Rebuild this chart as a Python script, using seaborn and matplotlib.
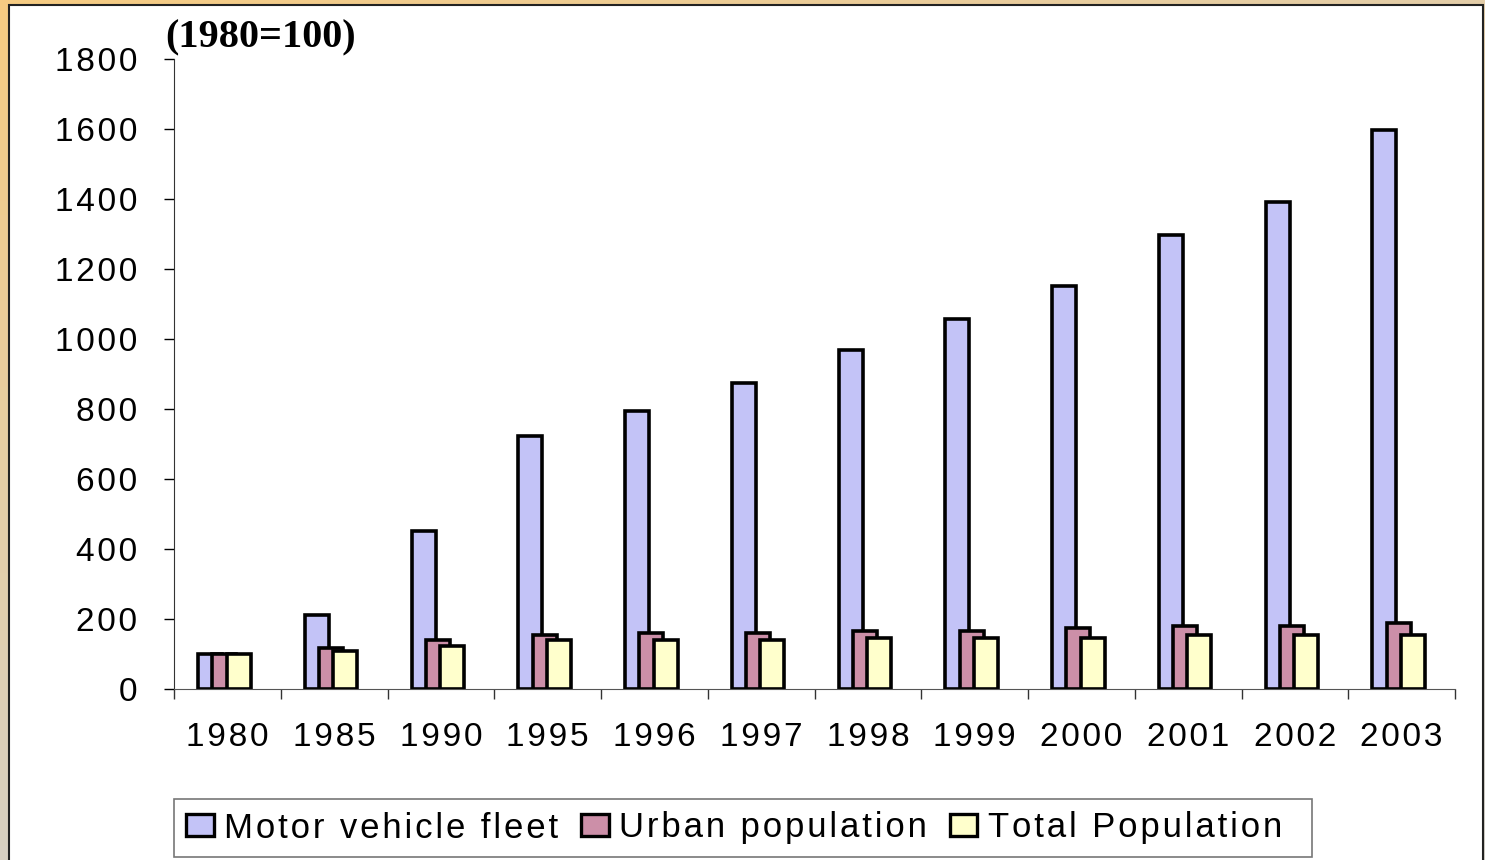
import numpy as np
import pandas as pd
import matplotlib
matplotlib.use("Agg")
import matplotlib.pyplot as plt
from matplotlib.patches import Rectangle
import seaborn as sns

# data (index, 1980 = 100)
years = ["1980", "1985", "1990", "1995", "1996", "1997",
         "1998", "1999", "2000", "2001", "2002", "2003"]
motor_fleet = [100, 211, 451, 723, 794, 874, 969, 1057, 1151, 1297, 1391, 1597]
urban_pop = [100, 117, 140, 154, 160, 160, 166, 166, 174, 180, 180, 189]
total_pop = [100, 109, 123, 140, 140, 140, 146, 146, 146, 154, 154, 154]
series_names = ["Motor vehicle fleet", "Urban population", "Total Population"]
colors = ["#c3c3f7", "#cc8fa8", "#ffffcc"]

df = pd.DataFrame({
    "year": years * 3,
    "value": motor_fleet + urban_pop + total_pop,
    "series": np.repeat(series_names, len(years)),
})

def spaced(s, sp="\u200a"):
    # fake the wide letter spacing of the original
    return sp.join(list(s))

W, H = 1485, 860
fig = plt.figure(figsize=(W / 100, H / 100), dpi=100)
sans = ["Liberation Sans", "DejaVu Sans"]

# outer frame gradient (orange top-left -> grey)
bg = fig.add_axes([0, 0, 1, 1], zorder=-10)
yy, xx = np.mgrid[0:1:60j, 0:1:100j]
t = np.clip(0.55 * xx + 0.9 * yy, 0, 1)[..., None]
c0 = np.array([246, 203, 130]) / 255
c1 = np.array([212, 208, 200]) / 255
bg.imshow(c0 * (1 - t) + c1 * t, aspect="auto", extent=[0, 1, 0, 1], origin="upper")
bg.set_axis_off()
bg.add_patch(Rectangle((9 / W, -0.01), (1483 - 9) / W, 1.01 - 5 / H,
                       transform=fig.transFigure, facecolor="white",
                       edgecolor="#222222", linewidth=1.5))

ax_w = 1455 - 174
ax = fig.add_axes([174 / W, (H - 689) / H, ax_w / W, (689 - 59) / H])
ax.patch.set_alpha(0)
sns.barplot(data=df, x="year", y="value", hue="series", palette=colors,
            width=0.40, edgecolor="black", linewidth=2.6, saturation=1,
            legend=False, ax=ax)

# overlapping bars like the original
px = 12 / ax_w  # one pixel in data units
for cont in ax.containers:
    for p in cont:
        mid = p.get_x() + p.get_width() / 2
        p.set_x(mid - 15 * px)
        p.set_width(24 * px)

ax.set_ylim(0, 1800)
ax.set_xlim(-0.5, 11.5)
ax.set_yticks(range(0, 1801, 200))
ax.set_yticklabels([spaced(str(v)) for v in range(0, 1801, 200)],
                   fontsize=24, family=sans)
ax.set_xticks(range(len(years)))
ax.set_xticklabels([spaced(y) for y in years], fontsize=24, family=sans)
ax.set_xticks(np.arange(-0.5, 12, 1), minor=True)
ax.tick_params(axis="x", which="major", length=0, pad=24)
ax.tick_params(axis="x", which="minor", length=7, width=1, color="#333333")
ax.tick_params(axis="y", length=7, width=1, pad=19.5)
ax.set_xlabel("")
ax.set_ylabel("")
for s in ["top", "right"]:
    ax.spines[s].set_visible(False)
ax.spines["left"].set_color("#333333")
ax.spines["bottom"].set_color("#555555")

fig.text(165 / W, 1 - 38 / H, "(1980=100)", fontsize=29, fontweight="bold",
         family=["Liberation Serif", "DejaVu Serif"], va="center", ha="left")

handles = [Rectangle((0, 0), 1, 1, facecolor=c, edgecolor="black", linewidth=2.4)
           for c in colors]
labels = [spaced(n) for n in series_names]
labels[-1] += "\u2002"
leg = fig.legend(handles, labels,
                 loc="center left", bbox_to_anchor=(174 / W, 1 - 828 / H),
                 ncol=3, frameon=True, fancybox=False,
                 handlelength=0.8, handleheight=0.6, handletextpad=0.3,
                 columnspacing=0.65, borderaxespad=0, borderpad=0.35,
                 prop={"family": sans, "size": 25})
leg.get_frame().set_edgecolor("#555555")
leg.get_frame().set_linewidth(1.2)

fig.savefig("out.png", dpi=100)
